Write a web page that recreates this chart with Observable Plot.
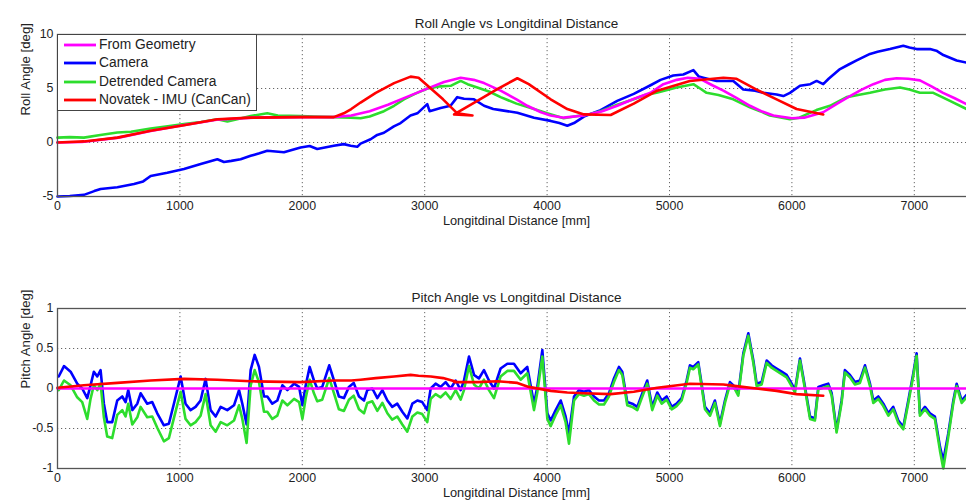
<!DOCTYPE html>
<html><head><meta charset="utf-8">
<script src="https://cdn.jsdelivr.net/npm/d3@7"></script>
<script src="https://cdn.jsdelivr.net/npm/@observablehq/plot@0.6"></script>
<style>
html,body{margin:0;padding:0;background:#fff;overflow:hidden;width:966px;height:504px}
#wrap{position:relative;width:966px;height:504px;overflow:hidden;font-family:"Liberation Sans",Arial,sans-serif;color:#222}
.panel{position:absolute;left:0;max-width:none !important;width:1000px;}
#legend{position:absolute;left:57px;top:34px;width:200px;height:77px;border:1px solid #444;background:#fff;box-sizing:border-box}
.lrow{position:absolute;left:0;height:16px;font-size:13.8px;line-height:16px;white-space:nowrap}
.lrow svg{position:absolute;left:5px;top:0}
.lrow span{position:absolute;left:41px;top:0}
</style></head>
<body><div id="wrap"></div>
<script>
// ---- series names and colours ----
const seriesNames = ["From Geometry", "Camera", "Detrended Camera", "Novatek - IMU (CanCan)"];
const seriesColors = ["#ff00ff", "#0000ff", "#2ddd2d", "#ff0000"];

// ---- axis ticks ----
const xTicks = [0, 1000, 2000, 3000, 4000, 5000, 6000, 7000];
const rollTicks = [-5, 0, 5, 10];
const pitchTicks = [-1, -0.5, 0, 0.5, 1];

// ---- Roll: From Geometry ----
const rollGeomX = [0,200,500,750,1000,1300,1600,2000,2250,2400,2550,2700,2850,3000,3158,3294,3400,3485,3620,3750,3838,3950,4029,4135,4301,4450,4573,4700,4845,4950,5060,5150,5250,5350,5440,5550,5657,5750,5848,6000,6100,6256,6370,6474,6570,6665,6760,6855,6950,7046,7140,7235,7330,7427,7500];
const rollGeomY = [0,0.05,0.45,1.05,1.55,2.1,2.3,2.35,2.35,2.5,2.9,3.5,4.2,4.9,5.6,6.0,5.8,5.5,4.8,4.0,3.4,2.8,2.5,2.3,2.5,2.9,3.4,4.0,4.6,5.4,5.8,6.0,5.9,5.3,4.8,4.1,3.4,2.9,2.5,2.25,2.3,2.8,3.6,4.3,4.9,5.4,5.8,5.95,5.9,5.75,5.2,4.6,4.1,3.55,3.2];

// ---- Roll: Camera ----
const rollCamX = [0,100,216,300,352,489,625,700,761,897,1033,1170,1306,1360,1420,1496,1578,1650,1714,1850,1986,2060,2122,2257,2339,2395,2449,2476,2558,2612,2667,2748,2803,2884,2940,3021,3040,3130,3211,3266,3321,3403,3485,3560,3620,3757,3893,4029,4100,4165,4220,4301,4437,4573,4708,4845,4927,5031,5113,5195,5240,5276,5385,5521,5603,5700,5766,5875,5930,5984,6066,6150,6202,6256,6300,6393,6460,6529,6638,6700,6801,6910,6960,7019,7128,7180,7237,7346,7427,7500];
const rollCamY = [-5.0,-4.95,-4.85,-4.5,-4.3,-4.15,-3.85,-3.6,-3.1,-2.8,-2.45,-2.0,-1.55,-1.8,-1.7,-1.55,-1.23,-1.0,-0.77,-0.9,-0.46,-0.33,-0.6,-0.3,-0.15,-0.3,-0.4,-0.1,0.3,0.7,0.9,1.5,1.8,2.5,2.7,3.55,2.9,3.2,3.4,4.2,4.05,4.0,3.4,3.1,3.0,2.75,2.3,2.0,1.8,1.55,1.8,2.4,3.0,3.85,4.5,5.3,5.8,6.2,6.3,6.7,6.1,6.0,5.7,5.7,4.9,4.8,4.6,4.45,4.3,4.6,5.25,5.4,5.7,5.4,5.9,6.8,7.2,7.6,8.2,8.4,8.65,8.95,8.8,8.65,8.65,8.5,8.1,7.6,7.4,7.2];

// ---- Roll: Detrended Camera ----
const rollDetX = [0,100,216,350,489,600,761,900,1033,1170,1306,1388,1450,1578,1714,1800,1986,2100,2257,2395,2476,2550,2667,2750,2830,2920,3021,3130,3212,3294,3350,3430,3530,3620,3750,3893,4000,4135,4247,4340,4437,4573,4708,4800,4895,5058,5195,5250,5303,5400,5521,5657,5740,5821,5984,6060,6120,6200,6311,6447,6540,6638,6760,6883,6960,7046,7155,7291,7427,7500];
const rollDetY = [0.45,0.5,0.45,0.7,0.93,1.0,1.3,1.5,1.7,1.9,2.15,1.95,2.1,2.45,2.7,2.5,2.45,2.4,2.35,2.3,2.25,2.4,2.9,3.4,4.0,4.5,5.0,5.2,5.25,5.7,5.4,5.1,4.7,4.2,3.6,3.1,2.7,2.25,2.45,2.6,2.9,3.5,4.0,4.4,4.6,5.1,5.4,5.0,4.6,4.4,4.0,3.25,2.9,2.5,2.15,2.3,2.6,3.0,3.4,4.2,4.4,4.6,4.9,5.1,4.9,4.6,4.6,3.85,3.1,2.9];

// ---- Novatek IMU (distance goes back and forth) ----
const imuX = [0,216,489,761,1033,1306,1578,1986,2257,2339,2400,2476,2600,2750,2885,2950,3050,3150,3266,3390,3240,3300,3430,3593,3757,3850,4029,4165,4301,4519,4708,4900,5166,5440,5548,5711,5875,6038,6256];
const imuRoll = [0,0.1,0.45,1.08,1.6,2.15,2.3,2.35,2.35,2.7,3.1,3.7,4.6,5.5,6.1,6.0,5.0,4.0,2.7,2.5,2.6,3.0,3.85,4.95,5.95,5.4,4.0,3.1,2.6,2.55,3.6,4.8,5.7,6.0,5.9,4.9,4.0,3.1,2.6];
const imuPitch = [0.01,0.04,0.07,0.1,0.12,0.11,0.09,0.08,0.1,0.1,0.1,0.11,0.13,0.15,0.17,0.16,0.15,0.13,0.08,0.08,0.08,0.08,0.08,0.09,0.07,0.02,-0.03,-0.05,-0.06,-0.07,-0.04,0.01,0.06,0.05,0.03,0.0,-0.03,-0.07,-0.09];

// ---- Pitch: From Geometry ----
const pitchGeomX = [0, 7500];
const pitchGeomY = [0, 0];

// ---- Pitch: Camera and Detrended Camera (shared distances) ----
const pitchCamX = [10,53,107,161,202,243,270,297,325,352,379,406,447,488,529,556,578,611,652,679,733,774,815,869,910,951,1006,1046,1087,1128,1169,1210,1251,1292,1333,1387,1442,1483,1510,1545,1578,1611,1646,1687,1714,1755,1796,1837,1878,1933,1974,2001,2028,2060,2095,2122,2163,2220,2259,2299,2340,2381,2420,2463,2504,2531,2572,2613,2654,2695,2735,2776,2817,2858,2899,2940,2980,3021,3049,3089,3130,3171,3212,3253,3294,3321,3362,3403,3443,3484,3525,3566,3620,3675,3729,3784,3838,3893,3920,3961,4002,4029,4070,4111,4151,4179,4220,4260,4301,4342,4383,4424,4465,4505,4546,4587,4614,4655,4696,4737,4778,4818,4859,4900,4936,4977,5018,5058,5099,5140,5167,5194,5235,5262,5290,5331,5371,5412,5453,5494,5535,5562,5603,5644,5685,5712,5753,5794,5834,5875,5916,5957,5998,6025,6066,6107,6148,6188,6216,6256,6297,6325,6365,6406,6433,6474,6515,6556,6597,6638,6665,6706,6747,6788,6828,6869,6910,6951,6992,7019,7046,7087,7128,7168,7210,7237,7278,7319,7346,7387,7427,7480];
const pitchCamY = [0.15,0.28,0.21,0.06,0.0,-0.12,0.04,0.21,0.15,0.23,-0.19,-0.42,-0.42,-0.15,-0.1,-0.17,-0.02,-0.27,-0.19,-0.06,-0.19,-0.17,-0.31,-0.46,-0.44,-0.19,0.15,-0.19,-0.27,-0.23,-0.15,0.12,-0.27,-0.35,-0.23,-0.27,-0.21,-0.02,-0.19,-0.45,0.23,0.42,0.27,-0.1,-0.1,-0.19,-0.15,0.04,-0.02,0.06,0.02,-0.21,0.04,0.27,0.1,0.0,0.02,0.29,0.1,-0.1,-0.12,0.02,0.07,-0.1,-0.15,-0.02,0.0,-0.12,-0.02,-0.15,-0.23,-0.19,-0.29,-0.375,-0.19,-0.15,-0.17,-0.27,0.0,0.06,0.02,0.08,0.0,0.1,-0.02,0.1,0.4,0.17,0.125,0.23,0.1,0.0,0.25,0.31,0.31,0.19,0.27,-0.19,0.02,0.48,-0.31,-0.4,-0.27,-0.15,-0.35,-0.56,-0.1,-0.02,-0.04,-0.02,-0.1,-0.15,-0.15,-0.06,0.125,0.27,0.21,-0.17,-0.19,-0.23,-0.06,0.1,-0.23,-0.05,-0.15,-0.1,-0.23,-0.19,-0.12,0.1,0.29,0.27,0.33,0.06,-0.23,-0.31,-0.15,-0.44,-0.15,0.08,0.02,-0.06,0.44,0.69,0.35,0.06,0.08,0.35,0.29,0.25,0.21,0.17,0.06,-0.02,0.375,0.02,-0.35,-0.375,0.02,0.04,0.06,-0.06,-0.52,-0.15,0.23,0.17,0.08,0.1,0.29,0.06,-0.15,-0.1,-0.19,-0.31,-0.23,-0.4,-0.48,-0.15,0.19,0.44,-0.31,-0.23,-0.31,-0.35,-0.73,-0.9,-0.56,-0.15,0.06,-0.15,-0.08,0.0];
const pitchDetY = [-0.02,0.1,0.04,-0.11,-0.17,-0.38,-0.13,0.04,-0.02,0.06,-0.36,-0.6,-0.62,-0.33,-0.27,-0.35,-0.19,-0.45,-0.36,-0.23,-0.36,-0.35,-0.49,-0.66,-0.62,-0.37,-0.04,-0.38,-0.46,-0.42,-0.34,-0.07,-0.46,-0.54,-0.42,-0.46,-0.4,-0.21,-0.38,-0.68,0.04,0.23,0.08,-0.29,-0.29,-0.38,-0.34,-0.15,-0.21,-0.13,-0.17,-0.38,-0.12,0.11,-0.06,-0.16,-0.14,0.13,-0.06,-0.26,-0.28,-0.14,-0.09,-0.26,-0.31,-0.18,-0.16,-0.28,-0.18,-0.31,-0.39,-0.35,-0.45,-0.54,-0.35,-0.3,-0.32,-0.42,-0.13,-0.07,-0.11,-0.05,-0.13,-0.02,-0.14,-0.02,0.28,0.05,0.0,0.11,-0.02,-0.12,0.15,0.22,0.22,0.11,0.19,-0.27,-0.05,0.4,-0.38,-0.47,-0.33,-0.21,-0.42,-0.69,-0.15,-0.07,-0.09,-0.07,-0.15,-0.2,-0.2,-0.1,0.08,0.23,0.17,-0.21,-0.23,-0.27,-0.1,0.06,-0.27,-0.09,-0.19,-0.14,-0.26,-0.22,-0.15,0.07,0.26,0.24,0.3,0.03,-0.26,-0.34,-0.18,-0.47,-0.18,0.05,-0.01,-0.09,0.41,0.66,0.32,0.03,0.05,0.32,0.26,0.22,0.18,0.14,0.03,-0.05,0.35,-0.01,-0.38,-0.4,-0.01,0.01,0.03,-0.09,-0.55,-0.18,0.2,0.14,0.05,0.07,0.26,0.03,-0.18,-0.13,-0.22,-0.34,-0.26,-0.43,-0.51,-0.18,0.16,0.41,-0.34,-0.26,-0.34,-0.38,-0.78,-1.0,-0.6,-0.18,0.03,-0.18,-0.11,-0.03];

// ---------------------------------------------------------------
const zip = (xs, ys) => xs.map((x, i) => ({x, y: ys[i]}));
const FONT = '"Liberation Sans", Arial, sans-serif';

function panel({title, ylabel, ydomain, yticks, series, marginTop, marginBottom, height}) {
  return Plot.plot({
    width: 1000, height,
    marginLeft: 57, marginRight: 25, marginTop, marginBottom,
    style: {fontFamily: FONT, fontSize: "12.4px", color: "#222", background: "transparent", maxWidth: "none"},
    x: {domain: [0, 7500], ticks: xTicks, tickSize: 0, tickPadding: 5, label: null, tickFormat: d => String(d)},
    y: {domain: ydomain, ticks: yticks, tickSize: 0, tickPadding: 4, label: null, tickFormat: d => String(d)},
    marks: [
      Plot.gridX(xTicks, {stroke: "#666", strokeOpacity: 1, strokeDasharray: "1.2,2.8"}),
      Plot.gridY(yticks, {stroke: "#666", strokeOpacity: 1, strokeDasharray: "1.2,2.8"}),
      ...series.map(s => Plot.line(s.data, {x: "x", y: "y", stroke: s.color, strokeWidth: 2.6, strokeLinejoin: "round"})),
      Plot.frame({stroke: "#555", strokeWidth: 1.3}),
      Plot.text([title], {frameAnchor: "top", dy: -16, fontSize: 13.5, fill: "#222"}),
      Plot.text(["Longitdinal Distance [mm]"], {frameAnchor: "bottom", dy: 28, fontSize: 12.8, fill: "#222"}),
      Plot.text([ylabel], {frameAnchor: "left", dx: -32, rotate: -90, fontSize: 13.2, fill: "#222"})
    ]
  });
}

const wrap = document.getElementById("wrap");

const topPanel = panel({
  title: "Roll Angle vs Longitdinal Distance",
  ylabel: "Roll Angle [deg]",
  ydomain: [-5, 10], yticks: rollTicks,
  marginTop: 34, marginBottom: 56, height: 252,
  series: [
    {data: zip(rollCamX, rollCamY), color: seriesColors[1]},
    {data: zip(rollDetX, rollDetY), color: seriesColors[2]},
    {data: zip(rollGeomX, rollGeomY), color: seriesColors[0]},
    {data: zip(imuX, imuRoll), color: seriesColors[3]}
  ]
});
topPanel.classList.add("panel"); topPanel.style.top = "0px";
wrap.appendChild(topPanel);

const bottomPanel = panel({
  title: "Pitch Angle vs Longitdinal Distance",
  ylabel: "Pitch Angle [deg]",
  ydomain: [-1, 1], yticks: pitchTicks,
  marginTop: 56, marginBottom: 36, height: 252,
  series: [
    {data: zip(pitchCamX, pitchCamY), color: seriesColors[1]},
    {data: zip(pitchCamX, pitchDetY), color: seriesColors[2]},
    {data: zip(pitchGeomX, pitchGeomY), color: seriesColors[0]},
    {data: zip(imuX, imuPitch), color: seriesColors[3]}
  ]
});
bottomPanel.classList.add("panel"); bottomPanel.style.top = "252px";
wrap.appendChild(bottomPanel);

// legend
const leg = document.createElement("div");
leg.id = "legend";
seriesNames.forEach((name, i) => {
  const row = document.createElement("div");
  row.className = "lrow";
  row.style.top = (2 + i * 18.4) + "px";
  row.innerHTML = `<svg width="34" height="16"><line x1="1" y1="8" x2="33" y2="8" stroke="${seriesColors[i]}" stroke-width="2.8"/></svg><span></span>`;
  row.querySelector("span").textContent = name;
  leg.appendChild(row);
});
wrap.appendChild(leg);
</script>
</body></html>
